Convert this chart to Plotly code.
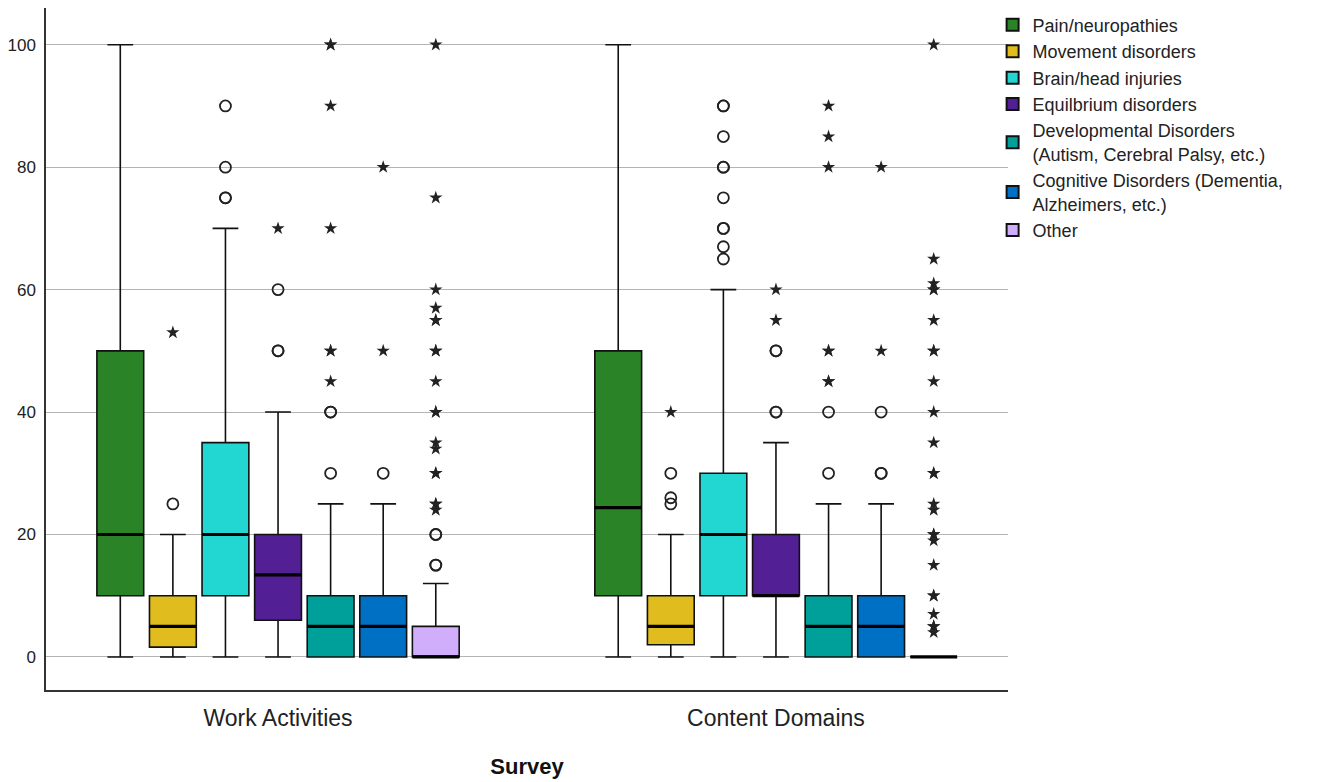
import plotly.graph_objects as go

# Survey groups on the x axis
surveys = ["Work Activities", "Content Domains"]

# Disorder categories and their fill colours
disorders = [
    "Pain/neuropathies",
    "Movement disorders",
    "Brain/head injuries",
    "Equilbrium disorders",
    "Developmental Disorders<br>(Autism, Cerebral Palsy, etc.)",
    "Cognitive Disorders (Dementia,<br>Alzheimers, etc.)",
    "Other",
]
colors = ["#2a8427", "#e0bc1f", "#22d6d2", "#521f94", "#00a09a", "#0070c4", "#d1aefc"]

# Box statistics per survey: [Work Activities, Content Domains]
lower_fence = {
    0: [0, 0], 1: [0, 0], 2: [0, 0], 3: [0, 0], 4: [0, 0], 5: [0, 0], 6: [0, 0],
}
q1_vals = {
    0: [10, 10], 1: [1.6, 2], 2: [10, 10], 3: [6, 10], 4: [0, 0], 5: [0, 0], 6: [0, 0],
}
median_vals = {
    0: [20, 24.4], 1: [5, 5], 2: [20, 20], 3: [13.4, 10], 4: [5, 5], 5: [5, 5], 6: [0, 0],
}
q3_vals = {
    0: [50, 50], 1: [10, 10], 2: [35, 30], 3: [20, 20], 4: [10, 10], 5: [10, 10], 6: [5, 0],
}
upper_fence = {
    0: [100, 100], 1: [20, 20], 2: [70, 60], 3: [40, 35], 4: [25, 25], 5: [25, 25], 6: [12, 0],
}

# Mild outliers (circles), repeated values mark overlapping cases
mild_outliers = {
    0: [[], []],
    1: [[25], [25, 26, 30]],
    2: [[75, 75, 80, 90], [65, 67, 70, 70, 75, 80, 80, 85, 90, 90]],
    3: [[50, 50, 60], [40, 40, 50, 50]],
    4: [[30, 40, 40], [30, 40]],
    5: [[30], [30, 30, 40]],
    6: [[15, 15, 20, 20], []],
}
# Extreme outliers (stars)
extreme_outliers = {
    0: [[], []],
    1: [[53], [40]],
    2: [[], []],
    3: [[70], [55, 60]],
    4: [[45, 50, 50, 70, 90, 100, 100], [45, 45, 50, 50, 80, 85, 90]],
    5: [[50, 80], [50, 80]],
    6: [[24, 25, 25, 30, 30, 34, 35, 40, 40, 45, 50, 50, 55, 55, 57, 60, 75, 100],
        [4, 5, 5, 7, 10, 10, 15, 19, 20, 20, 24, 25, 30, 30, 35, 40, 45, 50, 50,
         55, 60, 60, 61, 65, 100]],
}

# Layout of the grouped boxes on a numeric axis
slot = 0.1056
box_width = 0.094
n = len(disorders)


def position(group, k):
    return group + (k - (n - 1) / 2) * slot


fig = go.Figure()
font_family = "Liberation Sans, Arial, sans-serif"

for k, name in enumerate(disorders):
    xs = [position(g, k) for g in range(len(surveys))]
    fig.add_trace(go.Box(
        x=xs,
        q1=q1_vals[k], median=median_vals[k], q3=q3_vals[k],
        lowerfence=lower_fence[k], upperfence=upper_fence[k],
        width=box_width, whiskerwidth=0.55,
        fillcolor=colors[k],
        line=dict(color="#111111", width=1.6),
        name=name, legendgroup=name, showlegend=True,
        boxpoints=False, hoverinfo="skip",
    ))
    # Heavier median stroke
    for g in range(len(surveys)):
        fig.add_trace(go.Scatter(
            x=[xs[g] - box_width / 2, xs[g] + box_width / 2],
            y=[median_vals[k][g]] * 2,
            mode="lines", line=dict(color="#000000", width=3.2),
            showlegend=False, hoverinfo="skip",
        ))
    # Outlier markers
    for g in range(len(surveys)):
        mild = mild_outliers[k][g]
        if mild:
            fig.add_trace(go.Scatter(
                x=[xs[g]] * len(mild), y=mild, mode="markers",
                marker=dict(symbol="circle-open", size=11, color="#222222",
                            line=dict(width=1.8, color="#222222")),
                showlegend=False, hoverinfo="skip",
            ))
        ext = extreme_outliers[k][g]
        if ext:
            fig.add_trace(go.Scatter(
                x=[xs[g]] * len(ext), y=ext, mode="markers",
                marker=dict(symbol="star", size=10, color="#222222",
                            line=dict(width=0)),
                showlegend=False, hoverinfo="skip",
            ))

fig.update_layout(
    width=1336, height=782,
    margin=dict(l=46, r=328, t=8, b=92, autoexpand=False),
    paper_bgcolor="white", plot_bgcolor="white",
    font=dict(family=font_family, color="#222222"),
    xaxis=dict(
        range=[-0.466, 1.466],
        tickmode="array", tickvals=list(range(len(surveys))), ticktext=surveys,
        tickfont=dict(size=23, color="#222222"),
        showgrid=False, zeroline=False, automargin=False,
        showline=True, linecolor="#333333", linewidth=1.5,
        ticks="", ticklen=0, ticklabelstandoff=7,
        title=dict(text="<b>Survey</b>", font=dict(size=22, color="#111111"), standoff=28),
    ),
    yaxis=dict(
        range=[-5.4, 106],
        tickmode="array", tickvals=[0, 20, 40, 60, 80, 100],
        tickfont=dict(size=17, color="#222222"),
        showgrid=True, gridcolor="#b4b4b4", gridwidth=1,
        zeroline=False, automargin=False,
        showline=True, linecolor="#333333", linewidth=1.5,
        ticks="", ticklabelstandoff=5,
    ),
    legend=dict(
        x=0.984, y=1.002, xanchor="left", yanchor="top",
        font=dict(size=18, color="#222222"),
        tracegroupgap=0, itemsizing="constant", itemwidth=30,
        bgcolor="rgba(0,0,0,0)",
    ),
    showlegend=True,
)

fig.write_html("out.html")
